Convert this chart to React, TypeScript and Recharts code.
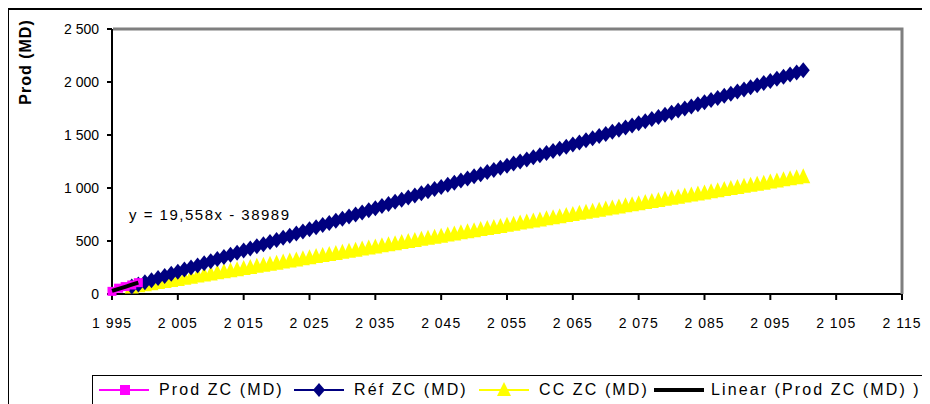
import { Line, LineChart, XAxis, YAxis } from 'recharts';

const FONT = '"Liberation Sans", Arial, sans-serif';

// Prod ZC (MD): measured points and Excel's linear trend
const prodYears = [1995, 1996, 1997, 1998, 1999];
const prodValues = [25, 55, 70, 85, 107];
const trendValues = [29, 49, 68, 88, 107];

// Réf ZC (MD) and CC ZC (MD), one point per year 1998..2100
const refYears = [
  1998, 1999, 2000, 2001, 2002, 2003, 2004, 2005, 2006, 2007, 2008, 2009, 2010,
  2011, 2012, 2013, 2014, 2015, 2016, 2017, 2018, 2019, 2020, 2021, 2022, 2023,
  2024, 2025, 2026, 2027, 2028, 2029, 2030, 2031, 2032, 2033, 2034, 2035, 2036,
  2037, 2038, 2039, 2040, 2041, 2042, 2043, 2044, 2045, 2046, 2047, 2048, 2049,
  2050, 2051, 2052, 2053, 2054, 2055, 2056, 2057, 2058, 2059, 2060, 2061, 2062,
  2063, 2064, 2065, 2066, 2067, 2068, 2069, 2070, 2071, 2072, 2073, 2074, 2075,
  2076, 2077, 2078, 2079, 2080, 2081, 2082, 2083, 2084, 2085, 2086, 2087, 2088,
  2089, 2090, 2091, 2092, 2093, 2094, 2095, 2096, 2097, 2098, 2099, 2100,
];
const refValues = [
  70, 90, 110, 130, 150, 170, 190, 210, 230, 250, 270, 290, 310, 330, 350, 370,
  390, 410, 430, 450, 470, 490, 510, 530, 550, 570, 590, 610, 630, 650, 670, 690,
  710, 730, 750, 770, 790, 810, 830, 850, 870, 890, 910, 930, 950, 970, 990,
  1010, 1030, 1050, 1070, 1090, 1110, 1130, 1150, 1170, 1190, 1210, 1230, 1250,
  1270, 1290, 1310, 1330, 1350, 1370, 1390, 1410, 1430, 1450, 1470, 1490, 1510,
  1530, 1550, 1570, 1590, 1610, 1630, 1650, 1670, 1690, 1710, 1730, 1750, 1770,
  1790, 1810, 1830, 1850, 1870, 1890, 1910, 1930, 1950, 1970, 1990, 2010, 2030,
  2050, 2070, 2090, 2110,
];
const ccValues = [
  62, 72, 82, 93, 103, 113, 123, 133, 144, 154, 164, 174, 184, 195, 205, 215,
  225, 235, 246, 256, 266, 276, 286, 297, 307, 317, 327, 337, 348, 358, 368, 378,
  388, 399, 409, 419, 429, 439, 450, 460, 470, 480, 490, 501, 511, 521, 531, 541,
  552, 562, 572, 582, 592, 603, 613, 623, 633, 643, 654, 664, 674, 684, 694, 705,
  715, 725, 735, 745, 756, 766, 776, 786, 796, 807, 817, 827, 837, 847, 858, 868,
  878, 888, 898, 909, 919, 929, 939, 949, 960, 970, 980, 990, 1000, 1011, 1021,
  1031, 1041, 1051, 1062, 1072, 1082, 1092, 1102,
];

const xTicks = [1995, 2005, 2015, 2025, 2035, 2045, 2055, 2065, 2075, 2085, 2095, 2105, 2115];
const xTickLabels = ['1 995', '2 005', '2 015', '2 025', '2 035', '2 045', '2 055', '2 065', '2 075', '2 085', '2 095', '2 105', '2 115'];
const yTicks = [0, 500, 1000, 1500, 2000, 2500];
const yTickLabels = ['0', '500', '1 000', '1 500', '2 000', '2 500'];

const prodData = prodYears.map((year, i) => ({ year, prod: prodValues[i] }));
const trendData = prodYears.map((year, i) => ({ year, trend: trendValues[i] }));
const refData = refYears.map((year, i) => ({ year, ref: refValues[i] }));
const ccData = refYears.map((year, i) => ({ year, cc: ccValues[i] }));

const diamond = (p: any) => (
  <path
    key={`d${p.index}`}
    d={`M${p.cx},${p.cy - 8}L${p.cx + 6.5},${p.cy}L${p.cx},${p.cy + 8}L${p.cx - 6.5},${p.cy}Z`}
    fill="#000080"
  />
);
const triangle = (p: any) => (
  <path
    key={`t${p.index}`}
    d={`M${p.cx},${p.cy - 9}L${p.cx + 7},${p.cy + 6}L${p.cx - 7},${p.cy + 6}Z`}
    fill="#FFFF00"
  />
);
const square = (p: any) => (
  <rect key={`s${p.index}`} x={p.cx - 4.5} y={p.cy - 4.5} width={9} height={9} fill="#FF00FF" />
);

const tickStyle = { fill: '#000', fontSize: 14, fontFamily: FONT };

function LegendRow() {
  const items = [
    { label: 'Prod ZC (MD)', color: '#FF00FF', x: 6, mark: 'square' },
    { label: 'Réf ZC (MD)', color: '#000080', x: 201, mark: 'diamond' },
    { label: 'CC ZC (MD)', color: '#FFFF00', x: 386, mark: 'triangle' },
    { label: 'Linear (Prod ZC (MD) )', color: '#000', x: 561, mark: 'none' },
  ];
  return (
    <div
      style={{
        position: 'absolute',
        left: 83,
        top: 365,
        width: 860,
        height: 40,
        border: '1px solid #000',
        background: '#fff',
        fontFamily: FONT,
        fontSize: 16,
      }}
    >
      {items.map((it) => (
        <div key={it.label} style={{ position: 'absolute', left: it.x, top: 4, height: 20, whiteSpace: 'nowrap' }}>
          <svg width={54} height={20} style={{ position: 'absolute', left: 0, top: 0 }}>
            <line x1={0} x2={50} y1={10} y2={10} stroke={it.color} strokeWidth={it.mark === 'none' ? 4 : 2} />
            {it.mark === 'square' && <rect x={21} y={5} width={10} height={10} fill={it.color} />}
            {it.mark === 'diamond' && <path d="M25,3L31,10L25,17L19,10Z" fill={it.color} />}
            {it.mark === 'triangle' && <path d="M25,2L32,16L18,16Z" fill={it.color} />}
          </svg>
          <span style={{ position: 'absolute', left: it.mark === 'none' ? 57 : 60, top: 1, letterSpacing: 2.1 }}>
            {it.label}
          </span>
        </div>
      ))}
    </div>
  );
}

export default function App() {
  return (
    <div
      style={{
        position: 'relative',
        width: 919,
        height: 420,
        border: '2px solid #000',
        marginLeft: -1,
        background: '#fff',
        fontFamily: FONT,
      }}
    >
      <LineChart width={919} height={400} margin={{ top: 19, right: 26, left: 0, bottom: 76 }}>
        <XAxis
          dataKey="year"
          type="number"
          domain={[1995, 2115]}
          ticks={xTicks}
          tickFormatter={(v: number) => xTickLabels[xTicks.indexOf(v)]}
          allowDuplicatedCategory={false}
          height={40}
          tickSize={6}
          tickMargin={18}
          tick={{ ...tickStyle, letterSpacing: 1 }}
          axisLine={{ stroke: '#000', strokeWidth: 2 }}
          tickLine={{ stroke: '#000', strokeWidth: 2 }}
        />
        <YAxis
          domain={[0, 2500]}
          ticks={yTicks}
          tickFormatter={(v: number) => yTickLabels[yTicks.indexOf(v)]}
          width={103}
          tickSize={5}
          tickMargin={8}
          tick={tickStyle}
          axisLine={{ stroke: '#000', strokeWidth: 2 }}
          tickLine={{ stroke: '#000', strokeWidth: 2 }}
          label={{
            content: () => (
              <text
                x={16}
                y={52}
                transform="rotate(-90 16 52)"
                textAnchor="middle"
                dominantBaseline="central"
                style={{ fontFamily: FONT, fontSize: 16, fontWeight: 'bold', letterSpacing: 1 }}
                fill="#000"
              >
                Prod (MD)
              </text>
            ),
          }}
        />
        <Line
          data={ccData}
          dataKey="cc"
          stroke="#FFFF00"
          strokeWidth={2}
          dot={triangle}
          isAnimationActive={false}
          name="CC ZC (MD)"
        />
        <Line
          data={refData}
          dataKey="ref"
          stroke="#000080"
          strokeWidth={2}
          dot={diamond}
          isAnimationActive={false}
          name="Réf ZC (MD)"
        />
        <Line
          data={prodData}
          dataKey="prod"
          stroke="#FF00FF"
          strokeWidth={2}
          dot={square}
          isAnimationActive={false}
          name="Prod ZC (MD)"
        />
        <Line
          data={trendData}
          dataKey="trend"
          stroke="#000"
          strokeWidth={4}
          dot={false}
          zIndex={1000}
          isAnimationActive={false}
          name="Linear (Prod ZC (MD) )"
        />
      </LineChart>
      {/* grey plot-area frame on top and right, as in the Excel original */}
      <svg
        width={919}
        height={300}
        style={{ position: 'absolute', left: 0, top: 0, pointerEvents: 'none' }}
      >
        <polyline points="104,19 893,19 893,284" fill="none" stroke="#7f7f7f" strokeWidth={3} />
      </svg>
      <div
        style={{
          position: 'absolute',
          left: 120,
          top: 196,
          fontSize: 15,
          letterSpacing: 1.5,
          color: '#000',
          whiteSpace: 'nowrap',
        }}
      >
        y = 19,558x - 38989
      </div>
      <LegendRow />
    </div>
  );
}
